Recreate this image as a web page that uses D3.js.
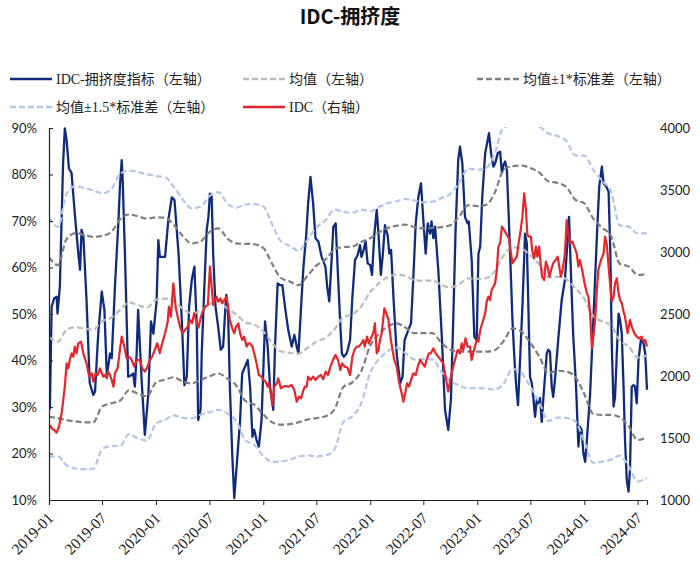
<!DOCTYPE html>
<html>
<head>
<meta charset="utf-8">
<script src="https://cdn.jsdelivr.net/npm/d3@7"></script>
<style>
  html, body { margin: 0; padding: 0; background: #fff; }
  svg { display: block; }
</style>
</head>
<body>
<div id="chart"></div>
<script>
// ---------------- DATA ----------------
const chartTitle = "IDC-拥挤度";
const legendLabels = ["IDC-拥挤度指标（左轴）", "均值（左轴）", "均值±1*标准差（左轴）", "均值±1.5*标准差（左轴）", "IDC（右轴）"];
const xTickLabels = ["2019-01","2019-07","2020-01","2020-07","2021-01","2021-07","2022-01","2022-07","2023-01","2023-07","2024-01","2024-07"];
const leftTicks = [10, 20, 30, 40, 50, 60, 70, 80, 90];
const rightTicks = [1000, 1500, 2000, 2500, 3000, 3500, 4000];

// IDC crowding indicator (%), left axis
const crowdDates = [
"2019-01-04","2019-01-10","2019-01-19","2019-01-27","2019-01-30","2019-02-07","2019-02-13","2019-02-18","2019-02-24","2019-03-02",
"2019-03-10","2019-03-19","2019-03-30","2019-04-11","2019-04-17","2019-04-22","2019-04-28","2019-05-09","2019-05-20","2019-06-01",
"2019-06-07","2019-06-18","2019-06-30","2019-07-09","2019-07-17","2019-07-22","2019-07-28","2019-08-03","2019-08-14","2019-08-26",
"2019-08-31","2019-09-06","2019-09-09","2019-09-17","2019-09-23","2019-09-28","2019-10-10","2019-10-15","2019-10-21","2019-10-27",
"2019-11-01","2019-11-13","2019-11-24","2019-12-06","2019-12-15","2019-12-23","2020-01-03","2020-01-09","2020-01-14","2020-02-01",
"2020-02-12","2020-02-24","2020-03-04","2020-03-18","2020-03-29","2020-04-07","2020-04-15","2020-04-23","2020-05-02","2020-05-11",
"2020-05-19","2020-05-24","2020-06-01","2020-06-05","2020-06-14","2020-06-22","2020-06-28","2020-07-03","2020-07-09","2020-07-14",
"2020-07-22","2020-07-31","2020-08-09","2020-08-17","2020-08-25","2020-08-28","2020-09-03","2020-09-09","2020-09-17","2020-09-24",
"2020-10-02","2020-10-14","2020-10-21","2020-10-31","2020-11-09","2020-11-17","2020-11-25","2020-12-01","2020-12-09","2020-12-17",
"2020-12-26","2021-01-07","2021-01-16","2021-01-24","2021-02-04","2021-02-10","2021-02-19","2021-02-27","2021-03-07","2021-03-16",
"2021-03-27","2021-04-08","2021-04-17","2021-04-25","2021-05-01","2021-05-10","2021-05-18","2021-05-27","2021-06-03","2021-06-11",
"2021-06-20","2021-06-28","2021-07-08","2021-07-19","2021-08-01","2021-08-07","2021-08-14","2021-08-22","2021-08-28","2021-09-05",
"2021-09-12","2021-09-20","2021-09-26","2021-10-03","2021-10-12","2021-10-16","2021-10-24","2021-11-01","2021-11-10","2021-11-19",
"2021-11-27","2021-12-02","2021-12-08","2021-12-16","2021-12-23","2022-01-01","2022-01-07","2022-01-15","2022-01-23","2022-01-29",
"2022-02-06","2022-02-13","2022-02-20","2022-03-01","2022-03-07","2022-03-13","2022-03-21","2022-04-01","2022-04-13","2022-04-21",
"2022-04-28","2022-05-11","2022-05-20","2022-05-28","2022-06-05","2022-06-14","2022-06-23","2022-07-01","2022-07-09","2022-07-16",
"2022-07-24","2022-07-29","2022-08-04","2022-08-10","2022-08-21","2022-09-02","2022-09-13","2022-09-24","2022-10-03","2022-10-11",
"2022-10-19","2022-10-28","2022-11-03","2022-11-11","2022-11-20","2022-11-29","2022-12-03","2022-12-13","2022-12-22","2022-12-30",
"2023-01-05","2023-01-11","2023-01-18","2023-01-28","2023-02-10","2023-02-17","2023-02-25","2023-03-03","2023-03-12","2023-03-20",
"2023-03-26","2023-03-31","2023-04-06","2023-04-12","2023-04-17","2023-04-23","2023-05-01","2023-05-08","2023-05-14","2023-05-20",
"2023-05-28","2023-06-04","2023-06-13","2023-06-19","2023-06-24","2023-06-30","2023-07-06","2023-07-11","2023-07-17","2023-07-23",
"2023-07-28","2023-08-03","2023-08-09","2023-08-14","2023-08-20","2023-08-26","2023-08-31","2023-09-06","2023-09-12","2023-09-17",
"2023-09-23","2023-10-04","2023-10-16","2023-10-27","2023-11-02","2023-11-10","2023-11-17","2023-11-24","2023-12-04","2023-12-12",
"2023-12-17","2023-12-23","2023-12-29","2024-01-04","2024-01-10","2024-01-21","2024-02-01","2024-02-13","2024-02-21","2024-03-01",
"2024-03-07","2024-03-16","2024-03-24","2024-03-30","2024-04-04","2024-04-10","2024-04-15","2024-04-21","2024-04-27","2024-05-02",
"2024-05-08","2024-05-14","2024-05-19","2024-05-25","2024-05-31","2024-06-05","2024-06-11","2024-06-17","2024-06-22","2024-06-28",
"2024-07-04","2024-07-12","2024-07-21","2024-07-27","2024-08-02"
];
const crowdValues = [
29.5,51.6,53.4,53.7,50.1,55.9,70.2,82.4,89.9,87.4,
81.3,80.3,71.6,63.0,59.5,68.1,67.0,53.0,35.1,32.6,
33.3,45.8,54.8,50.9,37.2,38.7,41.5,40.5,55.9,70.2,
77.4,83.1,79.5,63.0,48.7,36.5,36.9,37.2,34.4,41.5,
50.9,35.8,24.0,32.9,48.4,45.8,52.7,65.9,62.3,62.3,
70.2,75.1,74.5,63.0,48.7,34.7,36.5,51.6,57.3,60.2,
47.3,27.2,29.4,41.5,55.9,68.1,70.9,75.9,75.2,63.0,
51.6,47.3,42.3,43.0,51.6,54.1,50.1,34.4,20.0,10.4,
17.2,27.2,37.2,38.7,40.1,34.4,23.6,25.1,22.9,21.5,
27.2,48.4,43.0,34.4,29.4,43.0,56.6,56.2,56.2,51.6,
46.6,43.0,45.5,43.0,41.5,51.6,60.2,66.6,73.8,79.5,
73.8,66.3,65.6,62.3,60.2,55.9,52.7,61.6,68.8,69.5,
59.5,48.7,41.5,40.8,41.5,42.3,44.4,53.7,61.6,62.7,
64.8,62.3,63.4,65.6,60.9,60.5,58.4,67.3,72.4,67.3,
58.4,63.0,69.1,67.0,63.0,63.8,53.7,41.5,35.1,36.5,
44.4,46.6,48.0,58.0,69.5,75.2,78.1,70.2,63.0,69.5,
67.3,69.9,66.3,68.8,59.5,45.1,29.4,25.1,31.5,48.7,
68.1,83.1,86.0,82.4,70.9,69.5,69.9,61.6,45.1,44.4,
63.0,64.5,75.2,84.6,88.9,84.6,81.7,82.4,84.6,84.9,
80.3,82.0,82.8,81.0,73.1,63.0,48.7,40.1,34.4,30.4,
41.5,51.6,67.3,65.2,52.3,36.5,35.1,32.2,27.9,31.5,
30.8,31.9,26.8,31.5,36.5,41.5,42.3,41.9,34.4,32.2,
35.8,44.4,53.0,57.3,63.0,70.9,58.0,45.8,34.4,21.5,
25.8,25.1,20.0,18.2,22.9,32.9,48.7,66.6,77.4,81.7,
78.1,77.4,76.3,63.0,43.0,30.1,32.2,41.5,50.1,48.7,
45.8,34.4,22.9,14.3,11.8,16.5,34.4,34.7,34.4,30.8,
40.1,44.4,43.7,41.5,33.7
];

// IDC index, right axis
const idcDates = [
"2019-01-04","2019-01-10","2019-01-19","2019-01-27","2019-02-04","2019-02-13","2019-02-18","2019-02-24","2019-03-02","2019-03-08",
"2019-03-13","2019-03-19","2019-03-25","2019-03-30","2019-04-05","2019-04-11","2019-04-20","2019-04-28","2019-05-09","2019-05-18",
"2019-05-27","2019-06-01","2019-06-09","2019-06-16","2019-06-24","2019-06-30","2019-07-05","2019-07-11","2019-07-17","2019-07-22",
"2019-07-28","2019-08-03","2019-08-09","2019-08-14","2019-08-23","2019-08-31","2019-09-06","2019-09-15","2019-09-23","2019-10-01",
"2019-10-10","2019-10-19","2019-10-27","2019-11-07","2019-11-15","2019-11-24","2019-12-03","2019-12-11","2019-12-19","2019-12-28",
"2020-01-05","2020-01-14","2020-01-22","2020-02-01","2020-02-10","2020-02-14","2020-02-21","2020-02-29","2020-03-08","2020-03-15",
"2020-03-23","2020-03-31","2020-04-09","2020-04-18","2020-04-26","2020-05-03","2020-05-10","2020-05-18","2020-05-25","2020-06-01",
"2020-06-08","2020-06-17","2020-06-26","2020-07-03","2020-07-09","2020-07-14","2020-07-20","2020-07-26","2020-07-31","2020-08-08",
"2020-08-14","2020-08-21","2020-08-28","2020-09-03","2020-09-09","2020-09-17","2020-09-24","2020-09-30","2020-10-08","2020-10-14",
"2020-10-21","2020-10-28","2020-11-05","2020-11-11","2020-11-17","2020-11-25","2020-12-01","2020-12-09","2020-12-17","2020-12-26",
"2021-01-01","2021-01-09","2021-01-16","2021-01-20","2021-01-27","2021-02-01","2021-02-08","2021-02-16","2021-02-21","2021-03-02",
"2021-03-10","2021-03-18","2021-03-27","2021-04-08","2021-04-17","2021-04-25","2021-05-03","2021-05-10","2021-05-18","2021-05-23",
"2021-05-29","2021-06-03","2021-06-12","2021-06-20","2021-06-28","2021-07-08","2021-07-17","2021-07-24","2021-08-02","2021-08-10",
"2021-08-18","2021-08-27","2021-09-04","2021-09-13","2021-09-21","2021-09-27","2021-10-06","2021-10-15","2021-10-24","2021-11-01",
"2021-11-08","2021-11-16","2021-11-23","2021-12-02","2021-12-08","2021-12-13","2021-12-21","2021-12-27","2022-01-03","2022-01-11",
"2022-01-17","2022-01-23","2022-01-29","2022-02-03","2022-02-09","2022-02-18","2022-02-25","2022-03-04","2022-03-13","2022-03-24",
"2022-04-01","2022-04-10","2022-04-18","2022-04-24","2022-04-30","2022-05-06","2022-05-13","2022-05-20","2022-05-28","2022-06-05",
"2022-06-12","2022-06-20","2022-06-28","2022-07-06","2022-07-12","2022-07-20","2022-07-27","2022-08-04","2022-08-12","2022-08-21",
"2022-08-30","2022-09-07","2022-09-15","2022-09-24","2022-10-03","2022-10-11","2022-10-17","2022-10-26","2022-11-03","2022-11-09",
"2022-11-14","2022-11-22","2022-11-29","2022-12-07","2022-12-13","2022-12-18","2022-12-24","2022-12-30","2023-01-05","2023-01-11",
"2023-01-18","2023-01-28","2023-02-02","2023-02-08","2023-02-14","2023-02-19","2023-02-25","2023-03-03","2023-03-08","2023-03-14",
"2023-03-20","2023-03-26","2023-04-03","2023-04-12","2023-04-19","2023-04-26","2023-05-01","2023-05-08","2023-05-16","2023-05-21",
"2023-05-29","2023-06-04","2023-06-10","2023-06-16","2023-06-21","2023-06-27","2023-07-03","2023-07-07","2023-07-14","2023-07-20",
"2023-07-25","2023-07-31","2023-08-05","2023-08-10","2023-08-17","2023-08-23","2023-08-29","2023-09-04","2023-09-10","2023-09-17",
"2023-09-25","2023-10-02","2023-10-07","2023-10-13","2023-10-19","2023-10-27","2023-11-02","2023-11-07","2023-11-14","2023-11-21",
"2023-11-28","2023-12-06","2023-12-12","2023-12-17","2023-12-25","2024-01-02","2024-01-10","2024-01-15","2024-01-21","2024-01-27",
"2024-02-01","2024-02-07","2024-02-13","2024-02-18","2024-02-27","2024-03-07","2024-03-12","2024-03-18","2024-03-24","2024-03-30",
"2024-04-04","2024-04-10","2024-04-15","2024-04-21","2024-04-27","2024-05-02","2024-05-08","2024-05-14","2024-05-19","2024-05-28",
"2024-06-05","2024-06-11","2024-06-20","2024-06-28","2024-07-06","2024-07-15","2024-07-21","2024-07-27","2024-08-02"
];
const idcValues = [
1605,1578,1565,1543,1591,1699,1793,1914,2102,2062,
2129,2183,2156,2237,2183,2263,2277,2183,2102,1995,
2022,1954,2022,2008,2062,2022,1995,2008,1981,2035,
2008,1968,1914,2022,2062,2210,2317,2237,2143,2156,
2129,2075,2129,2129,2062,2035,2075,2129,2156,2210,
2263,2183,2263,2344,2438,2559,2478,2747,2559,2478,
2398,2344,2371,2398,2452,2425,2505,2440,2390,2465,
2519,2559,2573,2882,2720,2573,2613,2640,2599,2626,
2586,2613,2640,2559,2452,2384,2344,2398,2425,2344,
2290,2317,2237,2263,2263,2237,2183,2102,2008,1995,
1968,1954,1914,1941,1860,1766,1914,1941,1981,1901,
1914,1919,1914,1927,1887,1793,1833,1820,1887,1914,
1914,1995,1968,1995,1968,1995,2008,1973,2035,2008,
2075,2129,2169,2129,2048,2102,2075,2068,2008,2156,
2210,2237,2237,2263,2290,2237,2317,2263,2304,2344,
2425,2183,2210,2290,2344,2546,2505,2452,2277,2129,
2075,1941,1860,1793,1860,1941,1914,1968,2022,2008,
2075,2129,2102,2075,2129,2183,2183,2223,2183,2156,
2129,2102,1995,1874,1995,2075,2129,2210,2183,2263,
2210,2304,2237,2237,2129,2183,2237,2290,2277,2371,
2425,2505,2599,2640,2613,2694,2720,2750,2840,3043,
3070,3204,3177,3137,3110,2989,2909,2935,2962,3056,
3177,3285,3473,3339,3137,3124,3124,3016,2949,3043,
2962,3043,2909,2801,2774,2922,2882,2801,2855,2909,
2935,2962,2895,2801,2855,2989,3258,3151,3070,3083,
3043,2989,2882,2935,2855,2747,2667,2640,2505,2223,
2317,2452,2694,2855,2935,2989,3124,3056,2882,2720,
2599,2640,2747,2788,2667,2613,2586,2519,2478,2344,
2452,2398,2344,2317,2304,2317,2277,2290,2237
];

// Rolling mean and standard deviation of the crowding indicator (%), monthly
const bandMonths = [
"2019-01","2019-02","2019-03","2019-04","2019-05","2019-06","2019-07","2019-08","2019-09","2019-10","2019-11","2019-12",
"2020-01","2020-02","2020-03","2020-04","2020-05","2020-06","2020-07","2020-08","2020-09","2020-10","2020-11","2020-12",
"2021-01","2021-02","2021-03","2021-04","2021-05","2021-06","2021-07","2021-08","2021-09","2021-10","2021-11","2021-12",
"2022-01","2022-02","2022-03","2022-04","2022-05","2022-06","2022-07","2022-08","2022-09","2022-10","2022-11","2022-12",
"2023-01","2023-02","2023-03","2023-04","2023-05","2023-06","2023-07","2023-08","2023-09","2023-10","2023-11","2023-12",
"2024-01","2024-02","2024-03","2024-04","2024-05","2024-06","2024-07","2024-08"
];
const bandMean = [
45.05,44.05,46.6,47.15,46.85,46.65,48.45,49.2,50.9,52.5,51.9,51.4,
53.05,53.3,52.8,51.15,50.15,50.7,52.1,52.8,51.15,49.9,48.2,47.75,
46.3,43.7,42.0,41.65,41.45,42.75,44.0,44.85,46.7,49.35,49.9,51.6,
54.75,56.7,57.9,58.5,58.15,57.3,57.15,57.2,56.25,55.7,56.45,57.65,
57.55,57.7,59.1,62.6,64.35,64.05,62.6,60.6,57.9,58.0,57.45,55.55,
53.3,49.5,48.45,47.55,44.3,43.0,40.65,41.05
];
const bandSd = [
17.15,16.45,19.4,20.25,20.15,19.95,18.35,18.4,19.5,18.9,19.1,19.1,
17.75,17.4,16.4,15.65,15.05,14.9,15.5,15.6,15.05,15.3,16.9,17.25,
17.9,17.0,15.8,15.35,14.75,15.45,16.4,16.85,17.2,15.05,14.6,13.9,
11.55,10.9,10.6,10.5,11.05,11.4,11.25,11.3,12.45,13.4,14.55,15.75,
15.65,15.8,16.9,18.4,17.45,17.85,18.8,19.8,20.6,20.2,19.85,19.05,
20.5,21.0,20.15,19.25,16.5,17.2,17.75,17.55
];

// ---------------- CHART ----------------
const W = 700, H = 565;
const M = { left: 49, right: 647, top: 128, bottom: 500 };
const colors = { crowd: "#112b7c", mean: "#bcbcbc", sd1: "#7f7f7f", sd15: "#b4c6e7", idc: "#e3262b" };
const latinCjk = "'Liberation Serif', 'Noto Sans CJK SC', serif";

const parseDay = d3.timeParse("%Y-%m-%d");
const parseMonth = d3.timeParse("%Y-%m");

const svg = d3.select("#chart").append("svg").attr("width", W).attr("height", H);

const x = d3.scaleTime()
  .domain([parseDay("2019-01-01"), parseDay("2024-08-02")])
  .range([M.left, M.right]);
const yL = d3.scaleLinear().domain([10, 90]).range([M.bottom, M.top]);
const yR = d3.scaleLinear().domain([1000, 4000]).range([M.bottom, M.top]);

svg.append("defs").append("clipPath").attr("id", "plotClip")
  .append("rect").attr("x", M.left).attr("y", M.top - 1)
  .attr("width", M.right - M.left + 2).attr("height", M.bottom - M.top + 1);

// Title
svg.append("text")
  .attr("x", 350).attr("y", 24)
  .attr("text-anchor", "middle")
  .style("font-family", "'Noto Sans CJK SC', sans-serif")
  .style("font-weight", "bold")
  .style("font-size", "20px")
  .style("fill", "#111")
  .text(chartTitle);

const plot = svg.append("g").attr("clip-path", "url(#plotClip)");

// crowding indicator
const crowdData = crowdDates.map((d, i) => ({ t: parseDay(d), v: crowdValues[i] }));
plot.append("path").datum(crowdData)
  .attr("fill", "none").attr("stroke", colors.crowd).attr("stroke-width", 2.3)
  .attr("stroke-linejoin", "round")
  .attr("d", d3.line().x(d => x(d.t)).y(d => yL(d.v)));

// bands
const bandData = bandMonths.map((m, i) => ({ t: parseMonth(m), mean: bandMean[i], sd: bandSd[i] }));
const bandLine = k => d3.line().x(d => x(d.t)).y(d => yL(d.mean + k * d.sd)).curve(d3.curveMonotoneX);
const bands = [
  { k: 0, c: colors.mean },
  { k: 1, c: colors.sd1 }, { k: -1, c: colors.sd1 },
  { k: 1.5, c: colors.sd15 }, { k: -1.5, c: colors.sd15 }
];
bands.forEach(b => {
  plot.append("path").datum(bandData)
    .attr("fill", "none").attr("stroke", b.c).attr("stroke-width", 2.2)
    .attr("stroke-dasharray", "6,3")
    .attr("d", bandLine(b.k));
});

// IDC index
const idcData = idcDates.map((d, i) => ({ t: parseDay(d), v: idcValues[i] }));
plot.append("path").datum(idcData)
  .attr("fill", "none").attr("stroke", colors.idc).attr("stroke-width", 2.2)
  .attr("stroke-linejoin", "round")
  .attr("d", d3.line().x(d => x(d.t)).y(d => yR(d.v)));

// Axes
const tickFont = "'Lato', 'Open Sans', sans-serif";
const gL = svg.append("g").attr("transform", `translate(${M.left},0)`)
  .call(d3.axisLeft(yL).tickValues(leftTicks).tickSize(-4).tickPadding(12).tickFormat(d => d + "%"));
gL.select(".domain").attr("stroke", "#222").attr("stroke-width", 1.2);
gL.selectAll(".tick line").attr("stroke", "#222");
gL.selectAll("text").style("font-family", tickFont).style("font-size", "13px").style("fill", "#222");

const gR = svg.append("g").attr("transform", `translate(${M.right},0)`)
  .call(d3.axisRight(yR).tickValues(rightTicks).tickSize(0).tickPadding(13).tickFormat(d3.format("d")));
gR.select(".domain").remove();
gR.selectAll("text").style("font-family", tickFont).style("font-size", "13px").style("fill", "#222");

const gX = svg.append("g").attr("transform", `translate(0,${M.bottom})`)
  .call(d3.axisBottom(x).tickValues(xTickLabels.map(parseMonth)).tickSize(5).tickFormat(d3.timeFormat("%Y-%m")));
gX.select(".domain").attr("stroke", "#222").attr("stroke-width", 1.2);
gX.selectAll(".tick line").attr("stroke", "#222");
gX.selectAll("text")
  .attr("y", 0).attr("dy", 0)
  .attr("transform", "translate(5,19) rotate(-45)")
  .attr("text-anchor", "end")
  .style("font-family", "'Liberation Serif', serif")
  .style("font-size", "15.5px")
  .style("fill", "#222");

// Legend
const legendItems = [
  { label: legendLabels[0], c: colors.crowd, dash: null, x: 10, y: 79 },
  { label: legendLabels[1], c: colors.mean, dash: "6,3", x: 243, y: 79 },
  { label: legendLabels[2], c: colors.sd1, dash: "6,3", x: 477, y: 79 },
  { label: legendLabels[3], c: colors.sd15, dash: "6,3", x: 10, y: 107 },
  { label: legendLabels[4], c: colors.idc, dash: null, x: 243, y: 107 }
];
const lg = svg.append("g");
legendItems.forEach(it => {
  lg.append("line")
    .attr("x1", it.x).attr("x2", it.x + 42).attr("y1", it.y).attr("y2", it.y)
    .attr("stroke", it.c).attr("stroke-width", 2.5)
    .attr("stroke-dasharray", it.dash);
  lg.append("text")
    .attr("x", it.x + 46).attr("y", it.y + 5)
    .style("font-family", latinCjk).style("font-size", "14px").style("fill", "#222")
    .text(it.label);
});
</script>
</body>
</html>
